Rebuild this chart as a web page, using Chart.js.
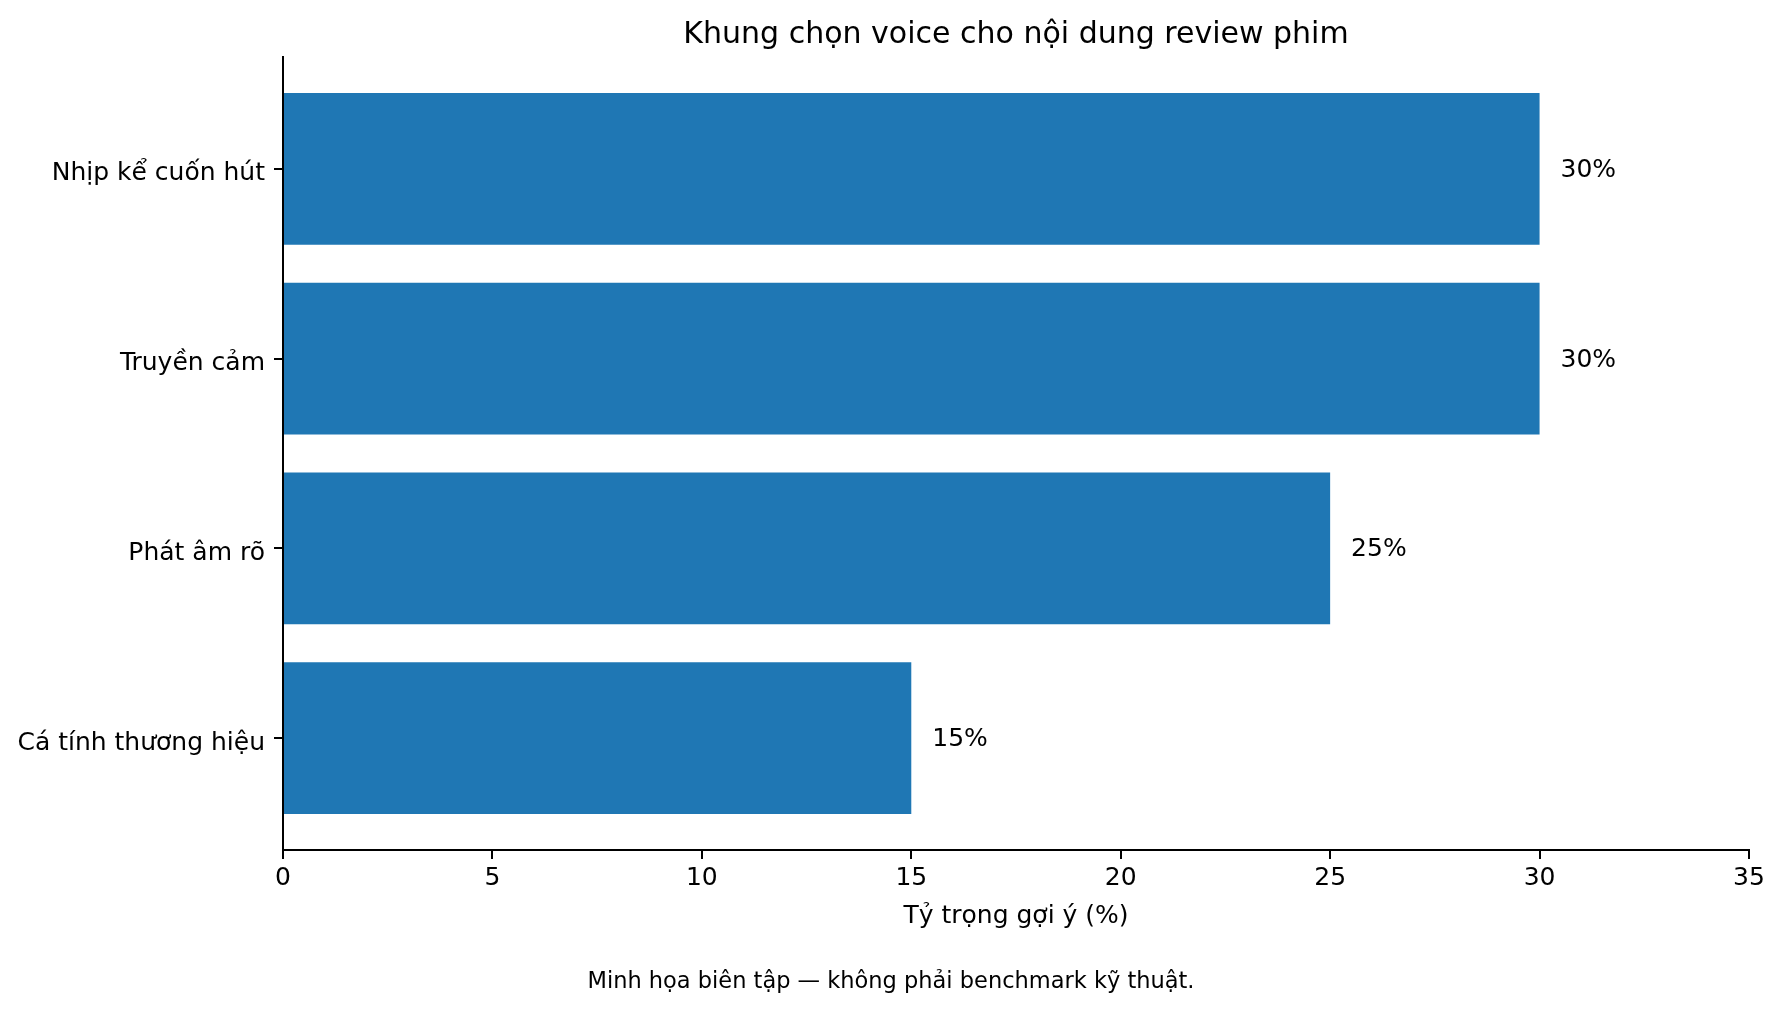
<!DOCTYPE html>
<html lang="vi">
<head>
<meta charset="utf-8">
<title>Khung chọn voice cho nội dung review phim</title>
<script src="https://cdn.jsdelivr.net/npm/chart.js@4.4.1/dist/chart.umd.min.js"></script>
<style>
  html, body { margin: 0; padding: 0; background: #fff; }
  #wrap { width: 1782px; height: 1010px; }
</style>
</head>
<body>
<div id="wrap"><canvas id="voiceChart" width="1782" height="1010"></canvas></div>
<script>
// data
const categories = ["Nhịp kể cuốn hút", "Truyền cảm", "Phát âm rõ", "Cá tính thương hiệu"];
const shares = [30, 30, 25, 15];
const xTicks = [0, 5, 10, 15, 20, 25, 30, 35];

const chartTitle = "Khung chọn voice cho nội dung review phim";
const xTitle = "Tỷ trọng gợi ý (%)";
const caption = "Minh họa biên tập — không phải benchmark kỹ thuật.";

const FONT = '"DejaVu Sans", sans-serif';

// title, axis title, caption and value labels
const textPlugin = {
  id: "texts",
  afterDraw(chart) {
    const { ctx, chartArea, scales } = chart;
    const cx = (chartArea.left + chartArea.right) / 2;
    ctx.save();
    ctx.fillStyle = "#000";
    ctx.textBaseline = "alphabetic";
    ctx.textAlign = "center";
    ctx.font = "30px " + FONT;
    ctx.fillText(chartTitle, cx, chartArea.top - 14);
    ctx.font = "25px " + FONT;
    ctx.fillText(xTitle, cx, chartArea.bottom + 73);
    ctx.font = "22.5px " + FONT;
    ctx.fillText(caption, chart.width / 2, chart.height - 22);

    ctx.font = "25px " + FONT;
    ctx.textAlign = "left";
    const meta = chart.getDatasetMeta(0);
    meta.data.forEach((bar, i) => {
      const x = scales.x.getPixelForValue(shares[i] + 0.5);
      ctx.fillText(shares[i] + "%", x, bar.y + 8);
    });
    ctx.restore();
  }
};

const ctx = document.getElementById("voiceChart").getContext("2d");
new Chart(ctx, {
  type: "bar",
  data: {
    datasets: [{
      data: categories.map((c, i) => ({ x: shares[i], y: i })),
      backgroundColor: "#1f77b4",
      borderWidth: 0,
      categoryPercentage: 1.0,
      barPercentage: 0.8,
    }],
  },
  options: {
    indexAxis: "y",
    responsive: false,
    devicePixelRatio: 1,
    animation: false,
    layout: { padding: { top: 57, right: 33, left: 0, bottom: 0 } },
    plugins: {
      legend: { display: false },
      tooltip: { enabled: false },
      title: { display: false },
    },
    scales: {
      x: {
        type: "linear",
        min: 0,
        max: 35,
        afterFit: (scale) => { scale.height = 160; },
        afterBuildTicks: (scale) => { scale.ticks = xTicks.map(v => ({ value: v })); },
        grid: {
          display: true,
          drawOnChartArea: false,
          drawTicks: true,
          tickLength: 9,
          color: "#000",
          lineWidth: 2,
        },
        border: { display: true, color: "#000", width: 2 },
        ticks: {
          font: { family: FONT, size: 25 },
          color: "#000",
          padding: 4,
          maxRotation: 0,
        },
      },
      y: {
        type: "linear",
        reverse: true,
        offset: false,
        min: -0.59,
        max: 3.59,
        afterFit: (scale) => { scale.width = 283; },
        afterBuildTicks: (scale) => { scale.ticks = categories.map((c, i) => ({ value: i })); },
        grid: {
          display: true,
          offset: false,
          drawOnChartArea: false,
          drawTicks: true,
          tickLength: 9,
          color: "#000",
          lineWidth: 2,
        },
        border: { display: true, color: "#000", width: 2 },
        ticks: {
          font: { family: FONT, size: 25 },
          color: "#000",
          padding: 9,
          labelOffset: 5,
          callback: (value) => categories[value],
        },
      },
    },
  },
  plugins: [textPlugin],
});
</script>
</body>
</html>
